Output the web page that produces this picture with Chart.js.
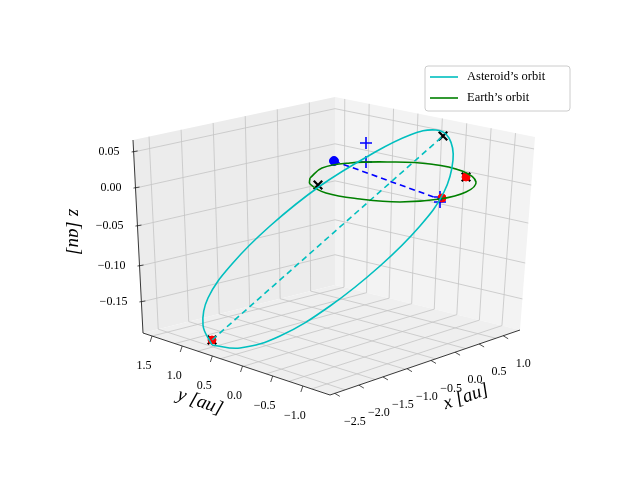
<!DOCTYPE html>
<html>
<head>
<meta charset="utf-8">
<script src="https://cdn.jsdelivr.net/npm/chart.js@4/dist/chart.umd.min.js"></script>
<style>body{margin:0;background:#fff}</style>
</head>
<body>
<canvas id="chart" width="640" height="480"></canvas>
<script>
// points, in projected view coordinates
const asteroidOrbit = [[212,345],[240,348],[280,336],[330,306],[380,266],[420,226],[444,192],[453,160],[449,138],[436,130],[410,135],[370,155],[320,186],[270,226],[232,264],[208,298],[203,325],[212,345]]
const earthOrbit = [[310,178],[322,168],[350,163],[390,162],[430,164],[462,171],[476,182],[466,192],[440,199],[400,202],[360,199],[326,193],[310,184],[310,178]]
const asteroidLine = [[212,340],[443,136]]
const earthLine = [[334,161],[442,200]]
const crossPoints = [[443,136],[318,185],[466,177],[212,340]]
const redPoints = [[466,177],[442,198],[212,340]]
const bluePoints = [[334,161]]
const plusPoints = [[366,143],[366,162],[440,202],[440,197]]
const zTicks = ['0.05','0.00','\u22120.05','\u22120.10','\u22120.15']
const yTicks = ['1.5','1.0','0.5','0.0','\u22120.5','\u22121.0']
const xTicks = ['\u22122.5','\u22122.0','\u22121.5','\u22121.0','\u22120.5','0.0','0.5','1.0']

const toXY = arr => arr.map(p => ({x: p[0], y: p[1]}))

//box corners of the 3D axes
const box = {
	lt: [133,140], lb: [143,333], bt: [335,97], bb: [335,285], rt: [535,137], rb: [520,330], f: [330,395]
}
const mix = (a, b, t) => [a[0] + (b[0] - a[0]) * t, a[1] + (b[1] - a[1]) * t]
const zFrac = [0.062, 0.249, 0.446, 0.653, 0.839]

const panes = {
	id: 'panes',
	beforeDatasetsDraw(chart) {
		const ctx = chart.ctx
		const sx = chart.scales.x, sy = chart.scales.y
		const P = p => [sx.getPixelForValue(p[0]), sy.getPixelForValue(p[1])]
		const poly = (pts, fill) => {
			ctx.beginPath()
			pts.map(P).forEach((p, i) => i ? ctx.lineTo(p[0], p[1]) : ctx.moveTo(p[0], p[1]))
			ctx.closePath(); ctx.fillStyle = fill; ctx.fill()
		}
		const line = (a, b, col, w) => {
			a = P(a); b = P(b)
			ctx.beginPath(); ctx.moveTo(a[0], a[1]); ctx.lineTo(b[0], b[1])
			ctx.strokeStyle = col; ctx.lineWidth = w; ctx.stroke()
		}
		ctx.save()
		poly([box.lt, box.bt, box.bb, box.lb], '#ececec')
		poly([box.bt, box.rt, box.rb, box.bb], '#f3f3f3')
		poly([box.lb, box.bb, box.rb, box.f], '#efefef')
		const g = '#c4c4c4'
		// horizontal z grid on walls
		zFrac.forEach(t => {
			const l = mix(box.lt, box.lb, t), b = mix(box.bt, box.bb, t), r = mix(box.rt, box.rb, t)
			line(l, b, g, 0.8); line(b, r, g, 0.8)
		})
		// y grid: left wall verticals and floor lines
		for (let i = 0; i < 6; i++) {
			const t = (i + 0.5) / 6.3
			line(mix(box.lt, box.bt, t), mix(box.lb, box.bb, t), g, 0.8)
			line(mix(box.lb, box.bb, t), mix(box.f, box.rb, t), g, 0.8)
		}
		// x grid: right wall verticals and floor lines
		for (let i = 0; i < 8; i++) {
			const t = (i + 0.4) / 8.2
			line(mix(box.bt, box.rt, t), mix(box.bb, box.rb, t), g, 0.8)
			line(mix(box.bb, box.rb, t), mix(box.lb, box.f, t), g, 0.8)
		}
		// axis lines
		line(box.lt, box.lb, '#222', 0.9)
		line(box.lb, box.f, '#222', 0.9)
		line(box.f, box.rb, '#222', 0.9)
		// tick labels
		ctx.fillStyle = '#000'
		ctx.font = '12px "Liberation Serif"'
		ctx.textBaseline = 'middle'
		ctx.textAlign = 'right'
		zFrac.forEach((t, i) => {
			const p = mix(box.lt, box.lb, t)
			line([p[0] - 2, p[1]], [p[0] + 4, p[1] - 1], '#222', 0.8)
			const q = P([p[0] - 14, p[1]]); ctx.fillText(zTicks[i], q[0], q[1])
		})
		ctx.textAlign = 'center'
		yTicks.forEach((lab, i) => {
			const p = mix(box.lb, box.f, (i + 0.3) / 6.2)
			line(p, [p[0] - 2, p[1] + 6], '#222', 0.8)
			const q = P([p[0] - 8, p[1] + 30]); ctx.fillText(lab, q[0], q[1])
		})
		xTicks.forEach((lab, i) => {
			const p = mix(box.f, box.rb, (i + 0.2) / 7.9)
			line(p, [p[0] + 5, p[1] + 3], '#222', 0.8)
			const q = P([p[0] + 20, p[1] + 28]); ctx.fillText(lab, q[0], q[1])
		})
		// axis titles
		ctx.font = 'italic 19px "Liberation Serif"'
		const title = (txt, at, rot) => {
			const q = P(at)
			ctx.save(); ctx.translate(q[0], q[1]); ctx.rotate(rot); ctx.fillText(txt, 0, 0); ctx.restore()
		}
		title('x [au]', [466, 397], -0.33)
		title('y [au]', [200, 402], 0.33)
		title('z [au]', [74, 232], Math.PI / 2)
		// legend
		const lx = P([425, 66]), lw = 145, lh = 45
		ctx.fillStyle = 'rgba(255,255,255,0.85)'; ctx.strokeStyle = '#ccc'; ctx.lineWidth = 1
		ctx.beginPath(); ctx.roundRect(lx[0], lx[1], lw, lh, 3); ctx.fill(); ctx.stroke()
		const items = [['Asteroid\u2019s orbit', '#00bfbf'], ['Earth\u2019s orbit', 'green']]
		ctx.font = '12.5px "Liberation Serif"'; ctx.textAlign = 'left'
		items.forEach((it, i) => {
			const y = lx[1] + 11 + i * 21
			ctx.beginPath(); ctx.moveTo(lx[0] + 5, y); ctx.lineTo(lx[0] + 33, y)
			ctx.strokeStyle = it[1]; ctx.lineWidth = 1.6; ctx.stroke()
			ctx.fillStyle = '#000'; ctx.fillText(it[0], lx[0] + 42, y)
		})
		ctx.restore()
	}
}

const graph = document.getElementById('chart')
new Chart(graph, {
	type: 'scatter',
	data: {
		datasets: [
			{data: toXY(asteroidOrbit), showLine: true, borderColor: '#00bfbf', borderWidth: 1.6, pointRadius: 0, tension: 0.4},
			{data: toXY(earthOrbit), showLine: true, borderColor: 'green', borderWidth: 1.6, pointRadius: 0, tension: 0.4},
			{data: toXY(asteroidLine), showLine: true, borderColor: '#00bfbf', borderWidth: 1.6, borderDash: [6, 4], pointRadius: 0},
			{data: toXY(earthLine), showLine: true, borderColor: 'blue', borderWidth: 1.6, borderDash: [6, 4], pointRadius: 0},
			{data: toXY(redPoints), pointRadius: 4, backgroundColor: 'red', borderColor: 'red'},
			{data: toXY(bluePoints), pointRadius: 4.5, backgroundColor: 'blue', borderColor: 'blue'},
			{data: toXY(plusPoints), pointStyle: 'cross', pointRadius: 6, borderColor: 'blue', borderWidth: 1.6},
			{data: toXY(crossPoints), pointStyle: 'crossRot', pointRadius: 6, borderColor: '#000', borderWidth: 2.2}
		]
	},
	options: {
		responsive: false,
		animation: false,
		layout: {padding: 0, autoPadding: false},
		plugins: {legend: {display: false}, tooltip: {enabled: false}},
		scales: {
			x: {type: 'linear', min: 0, max: 640, display: false},
			y: {type: 'linear', min: 0, max: 480, reverse: true, display: false}
		}
	},
	plugins: [panes]
})
</script>
</body>
</html>
